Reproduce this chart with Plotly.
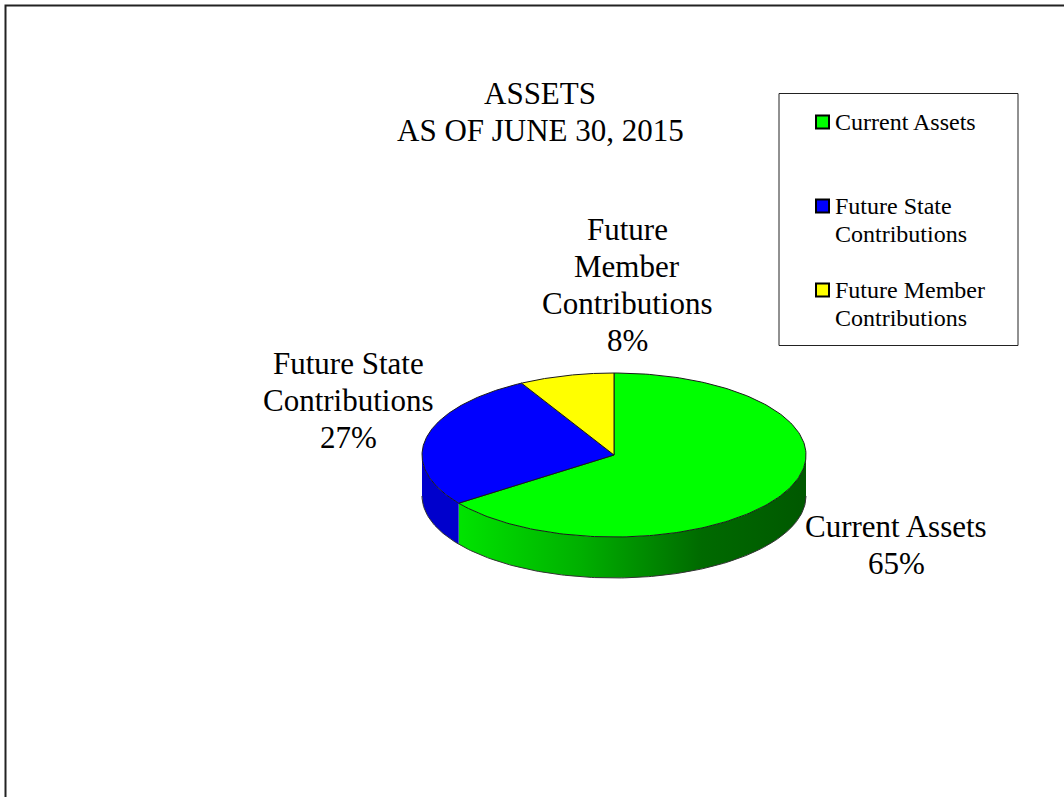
import numpy as np
import plotly.graph_objects as go

# ---- data ----
categories = ["Current Assets", "Future State Contributions", "Future Member Contributions"]
shares = [65, 27, 8]
label_lines = [["Current Assets"], ["Future State", "Contributions"], ["Future", "Member", "Contributions"]]
legend_lines = [["Current Assets"], ["Future State", "Contributions"], ["Future Member", "Contributions"]]
title_lines = ["ASSETS", "AS OF JUNE 30, 2015"]

# ---- styles / layout ----
top_colors = ["#00ff00", "#0000ff", "#ffff00"]
side_fill = ["#00b000", "#0000cc", "#c8c800"]
green_grad = [[0, "#00e400"], [0.35, "#00b000"], [0.7, "#006a00"], [1, "#005800"]]
FONT = "Liberation Serif, Times New Roman, serif"
W, H = 1064, 797
CX, CY, A, B, D = 614, 455, 192, 82, 41

def ex(t):
    return CX + A * np.sin(np.radians(t))

def ey(t):
    return CY - B * np.cos(np.radians(t))

fig = go.Figure()

# slice angle ranges (clockwise from 12 o'clock)
total = float(sum(shares))
bounds = []
start = 0.0
for s in shares:
    end = start + 360.0 * s / total
    bounds.append((start, end))
    start = end

# sides (front half: 90..270 deg)
for i, (t1, t2) in enumerate(bounds):
    a1, a2 = max(t1, 90), min(t2, 270)
    if a2 <= a1:
        continue
    th = np.linspace(a1, a2, 120)
    xs = np.concatenate([ex(th), ex(th[::-1])])
    ys = np.concatenate([ey(th), ey(th[::-1]) + D])
    kw = {}
    if i == 0:
        kw["fillgradient"] = dict(type="horizontal", colorscale=green_grad)
    else:
        kw["fillcolor"] = side_fill[i]
    fig.add_trace(go.Scatter(x=xs, y=ys, mode="lines", fill="toself",
                             line=dict(width=0, color="rgba(0,0,0,0)"),
                             hoverinfo="skip", showlegend=False, **kw))

# bottom outline of the side
th = np.linspace(90, 270, 200)
fig.add_trace(go.Scatter(x=ex(th), y=ey(th) + D, mode="lines",
                         line=dict(color="#333333", width=1),
                         hoverinfo="skip", showlegend=False))

# tops
for i, (t1, t2) in enumerate(bounds):
    th = np.linspace(t1, t2, 200)
    xs = np.concatenate([[CX], ex(th), [CX]])
    ys = np.concatenate([[CY], ey(th), [CY]])
    fig.add_trace(go.Scatter(x=xs, y=ys, mode="lines", fill="toself",
                             fillcolor=top_colors[i],
                             line=dict(color="#1a1a1a", width=1),
                             name=categories[i], hoverinfo="name",
                             showlegend=False))

annotations = []
# title
title_y = [93, 130]
for txt, y in zip(title_lines, title_y):
    annotations.append(dict(x=540, y=y, text=txt, showarrow=False,
                            font=dict(family=FONT, size=31, color="black"),
                            xanchor="center", yanchor="middle"))

# data labels
label_pos = [(896, 526), (348, 363), (627, 229)]
for i, lines in enumerate(label_lines):
    x0, y0 = label_pos[i]
    full = lines + [f"{shares[i]}%"]
    for k, txt in enumerate(full):
        annotations.append(dict(x=x0, y=y0 + 37 * k, text=txt, showarrow=False,
                                font=dict(family=FONT, size=31, color="black"),
                                xanchor="center", yanchor="middle"))

# legend (manual)
shapes = [
    dict(type="rect", x0=5.5, y0=5.5, x1=W + 10, y1=H + 10,
         line=dict(color="#222222", width=2), fillcolor="rgba(0,0,0,0)", layer="above"),
    dict(type="rect", x0=779, y0=93.5, x1=1018, y1=345.5,
         line=dict(color="#222222", width=1), fillcolor="white", layer="below"),
]
leg_y = [122, 206, 290]
for i, lines in enumerate(legend_lines):
    y0 = leg_y[i]
    shapes.append(dict(type="rect", x0=816, x1=829, y0=y0 - 6.5, y1=y0 + 6.5,
                       fillcolor=top_colors[i], line=dict(color="black", width=2),
                       layer="above"))
    for k, txt in enumerate(lines):
        annotations.append(dict(x=833, y=y0 + 28 * k, text=txt, showarrow=False,
                                font=dict(family=FONT, size=24, color="black"),
                                xanchor="left", yanchor="middle"))

fig.update_layout(
    width=W, height=H,
    margin=dict(l=0, r=0, t=0, b=0),
    paper_bgcolor="white", plot_bgcolor="white",
    xaxis=dict(range=[0, W], visible=False, fixedrange=True),
    yaxis=dict(range=[H, 0], visible=False, fixedrange=True),
    shapes=shapes, annotations=annotations, showlegend=False,
)

fig.write_html("out.html")
